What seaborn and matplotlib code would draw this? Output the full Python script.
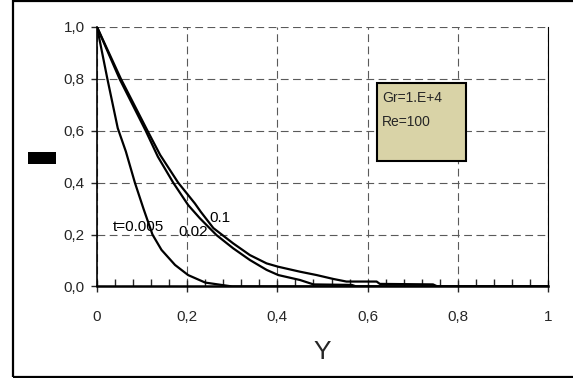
import matplotlib
matplotlib.use("Agg")
import matplotlib.pyplot as plt
import matplotlib.patches as mpatches
from matplotlib.ticker import FixedLocator, MultipleLocator, FixedFormatter
import pandas as pd
import seaborn as sns

# curve values (Y, theta) for each time
y_t005 = [0.0, 0.023, 0.046, 0.064, 0.084, 0.103, 0.123, 0.143, 0.173, 0.202, 0.240, 0.276, 0.300, 1.0]
th_t005 = [1.0, 0.80, 0.61, 0.52, 0.40, 0.30, 0.20, 0.141, 0.083, 0.044, 0.015, 0.006, 0.0, 0.0]

y_t02 = [0.0, 0.050, 0.108, 0.135, 0.169, 0.202, 0.228, 0.265, 0.302, 0.339, 0.376, 0.402, 0.450,
         0.480, 0.565, 0.575, 1.0]
th_t02 = [1.0, 0.80, 0.60, 0.50, 0.40, 0.314, 0.263, 0.198, 0.147, 0.102, 0.064, 0.044, 0.025,
          0.008, 0.006, 0.0, 0.0]

y_t1 = [0.0, 0.053, 0.112, 0.140, 0.180, 0.217, 0.230, 0.258, 0.302, 0.339, 0.376, 0.402, 0.450,
        0.487, 0.524, 0.553, 0.620, 0.627, 0.745, 0.755, 1.0]
th_t1 = [1.0, 0.80, 0.60, 0.507, 0.40, 0.32, 0.288, 0.225, 0.166, 0.121, 0.089, 0.076, 0.057,
         0.044, 0.029, 0.019, 0.019, 0.010, 0.008, 0.0, 0.0]

curve_labels = ["t=0.005", "0.02", "0.1"]
label_pos = [(0.035, 0.229), (0.18, 0.21), (0.25, 0.265)]

xticks = [0, 0.2, 0.4, 0.6, 0.8, 1.0]
xtick_labels = ["0", "0,2", "0,4", "0,6", "0,8", "1"]
yticks = [0, 0.2, 0.4, 0.6, 0.8, 1.0]
ytick_labels = ["0,0", "0,2", "0,4", "0,6", "0,8", "1,0"]

info_lines = ["Gr=1.E+4", "Re=100"]

sns.set_style("white")
plt.rcParams["font.family"] = ["Liberation Sans", "DejaVu Sans"]

frames = []
for name, xs, ys in zip(curve_labels, [y_t005, y_t02, y_t1], [th_t005, th_t02, th_t1]):
    frames.append(pd.DataFrame({"Y": xs, "theta": ys, "t": name}))
df = pd.concat(frames, ignore_index=True)

fig = plt.figure(figsize=(5.73, 3.78), dpi=100)
ax = fig.add_axes([0.1693, 0.2421, 0.7871, 0.6865])

# outer frame (right side is cut off in the original)
fig.patches.append(mpatches.Rectangle((12.5 / 573, 1.0 / 378), 1.2, 376.0 / 378,
                                      transform=fig.transFigure, fill=False,
                                      edgecolor="black", linewidth=1.6))

sns.lineplot(data=df, x="Y", y="theta", units="t", estimator=None, sort=False,
             color="black", linewidth=1.6, ax=ax, legend=False)

ax.set_xlim(0, 1)
ax.set_ylim(0, 1)

ax.xaxis.set_major_locator(FixedLocator(xticks))
ax.xaxis.set_major_formatter(FixedFormatter(xtick_labels))
ax.xaxis.set_minor_locator(MultipleLocator(0.04))
ax.yaxis.set_major_locator(FixedLocator(yticks))
ax.yaxis.set_major_formatter(FixedFormatter(ytick_labels))

ax.tick_params(axis="x", which="major", direction="inout", length=8, width=1,
               pad=13, labelsize=11, bottom=True)
ax.tick_params(axis="x", which="minor", direction="in", length=5, width=1, bottom=True)
ax.tick_params(axis="y", which="major", direction="out", length=4, width=1,
               pad=5, labelsize=11, left=True)

ax.grid(True, which="major", color="#5a5a5a", linestyle=(0, (7, 4)), linewidth=0.8)

ax.spines["top"].set_visible(False)
ax.spines["right"].set_color("black")
ax.spines["right"].set_linewidth(0.8)
ax.spines["left"].set_color("black")
ax.spines["left"].set_linewidth(1.2)
ax.spines["bottom"].set_color("black")
ax.spines["bottom"].set_linewidth(1.8)
ax.spines["bottom"].set_zorder(3)

ax.set_xlabel("")
ax.set_ylabel("")
fig.text(322 / 573, 1 - 352 / 378, "Y", fontsize=19, ha="center", va="center")

for lab, (px, py) in zip(curve_labels, label_pos):
    ax.text(px, py, lab, fontsize=11, ha="left", va="center", color="black")

# parameter box
ax.add_patch(mpatches.Rectangle((0.621, 0.482), 0.198, 0.302, facecolor="#D9D3A7",
                                edgecolor="black", linewidth=1.5, zorder=4))
ax.text(0.632, 0.725, info_lines[0], fontsize=10, ha="left", va="center", zorder=5)
ax.text(0.632, 0.633, info_lines[1], fontsize=10, ha="left", va="center", zorder=5)

# the y label shows up as a solid black block in the original
fig.patches.append(mpatches.Rectangle((28 / 573, 1 - 164 / 378), 28 / 573, 12 / 378,
                                      transform=fig.transFigure, facecolor="black",
                                      edgecolor="none"))
fig.text(42 / 573, 1 - 158 / 378, "θ", fontsize=9, color="black", ha="center", va="center")

fig.savefig("out.png", dpi=100)
